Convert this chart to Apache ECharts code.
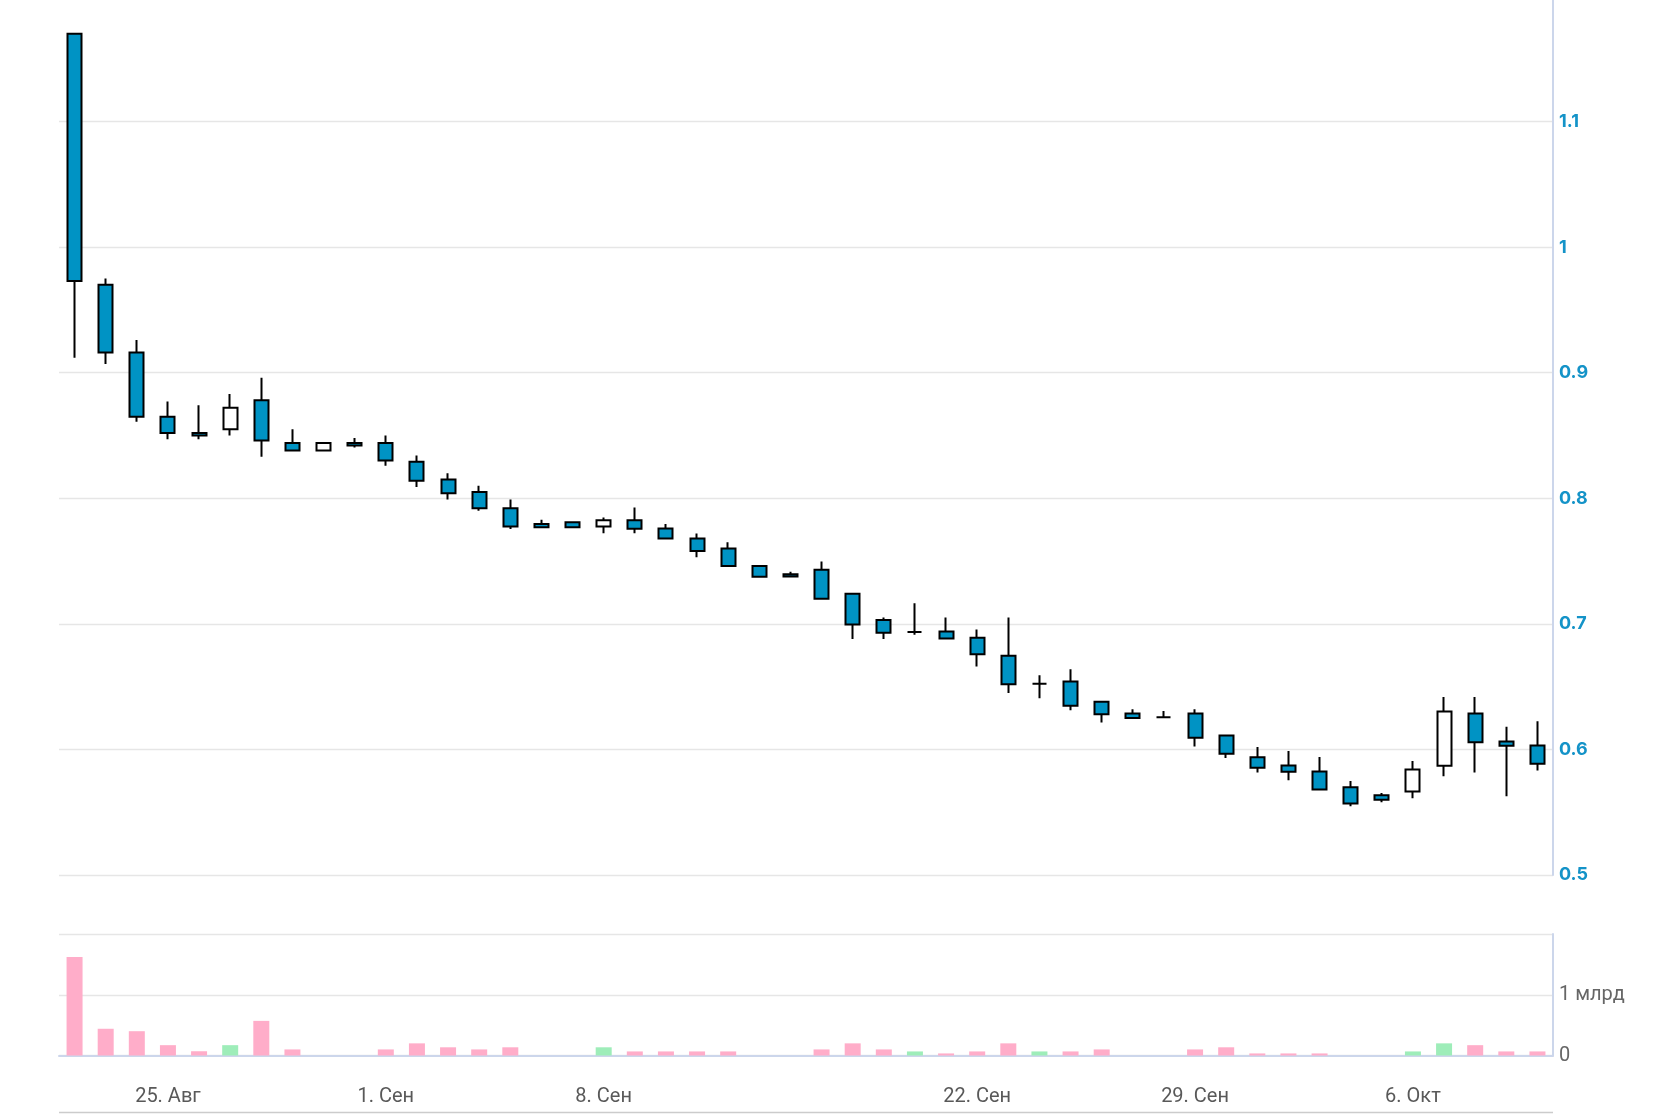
<!DOCTYPE html>
<html>
<head>
<meta charset="utf-8">
<title>Свечи</title>
<script src="https://cdn.jsdelivr.net/npm/echarts@6/dist/echarts.min.js"></script>
<style>
html, body { margin: 0; padding: 0; background: #fff; overflow: hidden; }
/* сдвиг вверх на 4px: верхняя граница шкалы (1.2) уходит за край */
#chart { position: absolute; left: 0; top: -4px; width: 1679px; height: 1118px; }
</style>
</head>
<body>
<div id="chart"></div>
<script>
// торговые дни (20 и 21 сентября в данных нет)
const dates = [
  '2025-08-22', '2025-08-23', '2025-08-24', '2025-08-25', '2025-08-26', '2025-08-27', '2025-08-28',
  '2025-08-29', '2025-08-30', '2025-08-31', '2025-09-01', '2025-09-02', '2025-09-03', '2025-09-04',
  '2025-09-05', '2025-09-06', '2025-09-07', '2025-09-08', '2025-09-09', '2025-09-10', '2025-09-11',
  '2025-09-12', '2025-09-13', '2025-09-14', '2025-09-15', '2025-09-16', '2025-09-17', '2025-09-18',
  '2025-09-19', '2025-09-22', '2025-09-23', '2025-09-24', '2025-09-25', '2025-09-26', '2025-09-27',
  '2025-09-28', '2025-09-29', '2025-09-30', '2025-10-01', '2025-10-02', '2025-10-03', '2025-10-04',
  '2025-10-05', '2025-10-06', '2025-10-07', '2025-10-08', '2025-10-09', '2025-10-10'
];
const opens = [
  1.170, 0.970, 0.916, 0.865, 0.852, 0.855, 0.878, 0.844, 0.838, 0.844, 0.844, 0.829, 0.815, 0.805,
  0.792, 0.7795, 0.781, 0.7775, 0.7825, 0.776, 0.768, 0.760, 0.746, 0.7395, 0.743, 0.724, 0.703, 0.6935,
  0.694, 0.689, 0.6746, 0.6524, 0.654, 0.638, 0.6286, 0.6257, 0.6286, 0.611, 0.5937, 0.5873, 0.5825, 0.5698,
  0.5635, 0.5664, 0.587, 0.6286, 0.6063, 0.6032
];
const highs = [
  1.170, 0.975, 0.926, 0.877, 0.874, 0.883, 0.896, 0.855, 0.844, 0.848, 0.850, 0.834, 0.820, 0.810,
  0.799, 0.783, 0.781, 0.7847, 0.7926, 0.7796, 0.772, 0.765, 0.746, 0.7415, 0.7497, 0.724, 0.705, 0.7164,
  0.705, 0.6955, 0.705, 0.659, 0.6638, 0.638, 0.632, 0.6307, 0.632, 0.611, 0.6019, 0.5987, 0.594, 0.5749,
  0.5653, 0.5907, 0.6418, 0.6418, 0.618, 0.6225
];
const lows = [
  0.912, 0.907, 0.861, 0.847, 0.847, 0.850, 0.833, 0.838, 0.838, 0.8405, 0.826, 0.809, 0.799, 0.790,
  0.7755, 0.777, 0.777, 0.7722, 0.7722, 0.7677, 0.753, 0.746, 0.7376, 0.7373, 0.720, 0.688, 0.688, 0.6913,
  0.6884, 0.666, 0.645, 0.6407, 0.6312, 0.6214, 0.6251, 0.6257, 0.6024, 0.5931, 0.5817, 0.5754, 0.568, 0.5548,
  0.558, 0.5611, 0.5786, 0.5817, 0.5627, 0.5833
];
const closes = [
  0.973, 0.916, 0.865, 0.852, 0.850, 0.872, 0.846, 0.838, 0.844, 0.842, 0.830, 0.814, 0.804, 0.792,
  0.7775, 0.777, 0.777, 0.7825, 0.7757, 0.768, 0.758, 0.746, 0.7376, 0.7378, 0.720, 0.6995, 0.693, 0.6935,
  0.6884, 0.6757, 0.652, 0.6524, 0.6347, 0.628, 0.6251, 0.6257, 0.6093, 0.5966, 0.5854, 0.5823, 0.568, 0.5569,
  0.560, 0.5841, 0.6302, 0.6058, 0.6029, 0.5886
];
// объём, млрд
const volumes = [
  1.62, 0.44, 0.40, 0.17, 0.07, 0.17, 0.57, 0.10, 0, 0, 0.10, 0.20, 0.135, 0.10,
  0.135, 0, 0, 0.135, 0.067, 0.067, 0.067, 0.067, 0, 0, 0.10, 0.20, 0.10, 0.067,
  0.034, 0.067, 0.20, 0.067, 0.067, 0.10, 0, 0, 0.10, 0.135, 0.034, 0.034, 0.034, 0,
  0, 0.067, 0.20, 0.17, 0.067, 0.067
];
const tickDates = ['2025-08-25', '2025-09-01', '2025-09-08', '2025-09-22', '2025-09-29', '2025-10-06'];
const tickLabels = ['25. Авг', '1. Сен', '8. Сен', '22. Сен', '29. Сен', '6. Окт'];

const candleData = dates.map((d, i) => [opens[i], closes[i], lows[i], highs[i]]);
const volumeData = dates.map((d, i) => ({
  value: volumes[i],
  itemStyle: { color: closes[i] >= opens[i] ? '#9eedb9' : '#ffadc9' }
}));
const showTick = (idx, val) => tickDates.indexOf(val) >= 0;

const axisBlue = '#ccd6eb';
const gridGray = '#e6e6e6';

const chart = echarts.init(document.getElementById('chart'));
chart.setOption({
  animation: false,
  backgroundColor: '#fff',
  grid: [
    { left: 59, right: 126, top: 0, height: 879 },
    { left: 59, right: 126, top: 938, height: 121.5 }
  ],
  xAxis: [
    {
      type: 'category', gridIndex: 0, data: dates, boundaryGap: true,
      axisLine: { show: false }, axisTick: { show: false }, axisLabel: { show: false },
      splitLine: { show: false }
    },
    {
      type: 'category', gridIndex: 1, data: dates, boundaryGap: true, offset: 10,
      axisLine: { lineStyle: { color: axisBlue, width: 2 } },
      axisTick: {
        alignWithLabel: true, interval: showTick, length: 19,
        lineStyle: { color: axisBlue, width: 1.5 }
      },
      axisLabel: {
        interval: showTick, margin: 21, color: '#595959', fontSize: 20,
        fontFamily: 'Roboto, "Liberation Sans", sans-serif',
        formatter: v => tickLabels[tickDates.indexOf(v)] || ''
      },
      splitLine: { show: false }
    }
  ],
  yAxis: [
    {
      type: 'value', gridIndex: 0, position: 'right', min: 0.5, max: 1.2, interval: 0.1,
      axisLine: { show: true, lineStyle: { color: axisBlue, width: 2 } },
      axisTick: { show: false },
      axisLabel: {
        margin: 6, color: '#1493c8', fontSize: 18, fontWeight: 'bold',
        fontFamily: 'Inter, "DejaVu Sans", sans-serif',
        formatter: v => v > 1.15 ? '' : String(+v.toFixed(1))
      },
      splitLine: { lineStyle: { color: gridGray, width: 1.3 } }
    },
    {
      type: 'value', gridIndex: 1, position: 'right', min: 0, max: 2, interval: 1,
      axisLine: { show: true, lineStyle: { color: axisBlue, width: 2 } },
      axisTick: { show: false },
      axisLabel: {
        margin: 6, color: '#666', fontSize: 20,
        fontFamily: 'Roboto, "Liberation Sans", sans-serif',
        formatter: v => v === 0 ? '0' : (v === 1 ? '1 млрд' : '')
      },
      splitLine: { lineStyle: { color: gridGray, width: 1.3 } }
    }
  ],
  series: [
    {
      name: 'Цена', type: 'candlestick', xAxisIndex: 0, yAxisIndex: 0,
      data: candleData, barWidth: 14.5,
      itemStyle: {
        color: '#ffffff', color0: '#0093c4',
        borderColor: '#000', borderColor0: '#000', borderColorDoji: '#000',
        borderWidth: 2
      }
    },
    {
      name: 'Объём', type: 'bar', xAxisIndex: 1, yAxisIndex: 1,
      data: volumeData, barWidth: 16
    }
  ],
  graphic: [
    {
      type: 'line', silent: true,
      shape: { x1: 59, y1: 1116.5, x2: 1553, y2: 1116.5 },
      style: { stroke: '#cccccc', lineWidth: 1.5 }
    }
  ]
});
</script>
</body>
</html>
